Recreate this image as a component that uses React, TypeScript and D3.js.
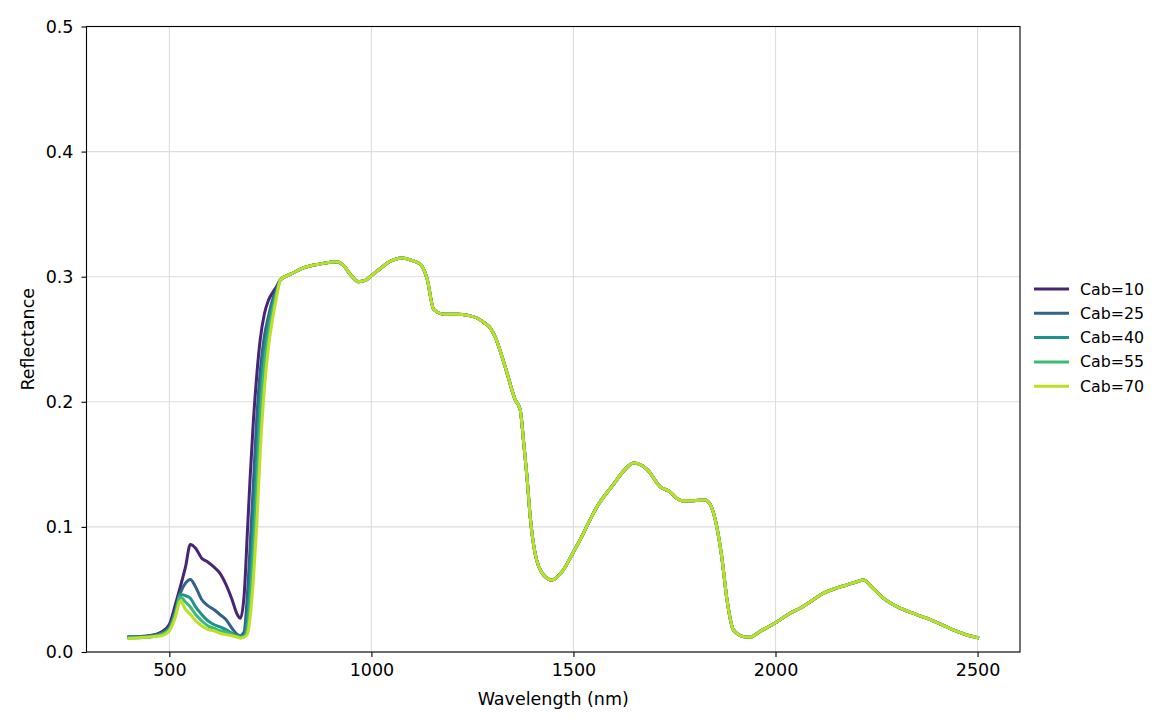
import { useEffect, useRef } from "react";
import * as d3 from "d3";

// visible / red-edge part, where the chlorophyll content changes the curve
const visibleWl = [400, 450, 480, 500, 515, 527, 540, 552, 565, 580, 595, 610, 625, 640, 655, 668, 676, 685, 693, 700, 708, 716, 725, 735, 745, 755, 765, 775];

const cab10 = [0.012, 0.013, 0.016, 0.022, 0.038, 0.052, 0.068, 0.086, 0.083, 0.075, 0.072, 0.068, 0.063, 0.054, 0.042, 0.030, 0.027, 0.045, 0.095, 0.14, 0.185, 0.22, 0.25, 0.27, 0.281, 0.287, 0.292, 0.2976];
const cab25 = [0.012, 0.013, 0.015, 0.020, 0.033, 0.047, 0.055, 0.058, 0.052, 0.042, 0.037, 0.034, 0.030, 0.026, 0.019, 0.014, 0.013, 0.016, 0.045, 0.085, 0.135, 0.185, 0.225, 0.252, 0.268, 0.281, 0.29, 0.2976];
const cab40 = [0.012, 0.012, 0.014, 0.019, 0.032, 0.046, 0.045, 0.043, 0.036, 0.030, 0.025, 0.022, 0.020, 0.018, 0.015, 0.013, 0.012, 0.013, 0.025, 0.055, 0.1, 0.15, 0.203, 0.24, 0.261, 0.277, 0.288, 0.2976];
const cab55 = [0.011, 0.012, 0.014, 0.018, 0.030, 0.044, 0.040, 0.036, 0.030, 0.025, 0.021, 0.019, 0.017, 0.016, 0.014, 0.012, 0.012, 0.012, 0.018, 0.04, 0.078, 0.125, 0.185, 0.228, 0.253, 0.272, 0.286, 0.2976];
const cab70 = [0.011, 0.012, 0.013, 0.017, 0.028, 0.041, 0.034, 0.030, 0.025, 0.021, 0.018, 0.017, 0.015, 0.014, 0.013, 0.012, 0.011, 0.012, 0.014, 0.028, 0.058, 0.1, 0.16, 0.21, 0.243, 0.265, 0.283, 0.2976];

// NIR / SWIR part, the same for every Cab
const tailWl = [800, 832, 870, 915, 931, 950, 968, 985, 997, 1020, 1045, 1076, 1100, 1121, 1138, 1154, 1180, 1212, 1240, 1261, 1280, 1294, 1306, 1331, 1356, 1368, 1377, 1385, 1393, 1405, 1426, 1447, 1475, 1500, 1517, 1540, 1558, 1599, 1625, 1649, 1682, 1715, 1739, 1755, 1768, 1797, 1826, 1840, 1851, 1867, 1880, 1896, 1920, 1936, 1961, 2003, 2036, 2061, 2090, 2119, 2150, 2176, 2200, 2218, 2238, 2267, 2308, 2340, 2374, 2410, 2440, 2470, 2500];
const tailR = [0.302, 0.307, 0.31, 0.312, 0.309, 0.301, 0.296, 0.297, 0.3, 0.306, 0.312, 0.315, 0.313, 0.31, 0.298, 0.274, 0.27, 0.27, 0.269, 0.267, 0.263, 0.259, 0.252, 0.228, 0.2016, 0.194, 0.167, 0.14, 0.108, 0.079, 0.0616, 0.0576, 0.0656, 0.08, 0.09, 0.105, 0.116, 0.134, 0.145, 0.151, 0.146, 0.132, 0.128, 0.123, 0.121, 0.121, 0.1216, 0.117, 0.1056, 0.076, 0.0416, 0.0176, 0.0123, 0.0117, 0.0163, 0.024, 0.031, 0.035, 0.041, 0.047, 0.051, 0.0536, 0.056, 0.0576, 0.052, 0.043, 0.035, 0.031, 0.027, 0.022, 0.0176, 0.014, 0.0115];

const seriesNames = ["Cab=10", "Cab=25", "Cab=40", "Cab=55", "Cab=70"];
const seriesVisible = [cab10, cab25, cab40, cab55, cab70];
const seriesColors = ["#482475", "#33638d", "#21918c", "#3bbb75", "#bddf26"];

const xTicks = [500, 1000, 1500, 2000, 2500];
const yTicks = [0, 0.1, 0.2, 0.3, 0.4, 0.5];

export default function App() {
  const svgRef = useRef<SVGSVGElement | null>(null);

  useEffect(() => {
    const svgElement = svgRef.current;
    if (!svgElement) return;

    const width = 1170;
    const height = 728;
    const margin = { top: 26.5, right: 150, bottom: 76, left: 86.5 };
    const chartWidth = width - margin.left - margin.right;
    const chartHeight = height - margin.top - margin.bottom;

    const x = d3.scaleLinear().domain([295, 2605]).range([0, chartWidth]);
    const y = d3.scaleLinear().domain([0, 0.5]).range([chartHeight, 0]);

    const svg = d3.select(svgElement);
    svg.selectAll("*").remove();

    const chart = svg.append("g").attr("transform", `translate(${margin.left}, ${margin.top})`);

    // grid
    chart
      .append("g")
      .selectAll("line")
      .data(xTicks)
      .join("line")
      .attr("x1", (d) => x(d))
      .attr("x2", (d) => x(d))
      .attr("y1", 0)
      .attr("y2", chartHeight)
      .attr("stroke", "#dddddd")
      .attr("stroke-width", 1.1);
    chart
      .append("g")
      .selectAll("line")
      .data(yTicks)
      .join("line")
      .attr("x1", 0)
      .attr("x2", chartWidth)
      .attr("y1", (d) => y(d))
      .attr("y2", (d) => y(d))
      .attr("stroke", "#dddddd")
      .attr("stroke-width", 1.1);

    const line = d3
      .line<[number, number]>()
      .x((d) => x(d[0]))
      .y((d) => y(d[1]))
      .curve(d3.curveMonotoneX);

    seriesVisible.forEach((values, i) => {
      const points: [number, number][] = [
        ...visibleWl.map((wl, j) => [wl, values[j]] as [number, number]),
        ...tailWl.map((wl, j) => [wl, tailR[j]] as [number, number]),
      ];
      chart
        .append("path")
        .attr("d", line(points) ?? "")
        .attr("fill", "none")
        .attr("stroke", seriesColors[i])
        .attr("stroke-width", 3)
        .attr("stroke-linejoin", "round")
        .attr("stroke-linecap", "square");
    });

    const font = "DejaVu Sans, sans-serif";
    const fontSize = 17.5;

    const xAxis = chart
      .append("g")
      .attr("transform", `translate(0, ${chartHeight})`)
      .call(d3.axisBottom(x).tickValues(xTicks).tickSize(5).tickPadding(7).tickFormat((d) => String(d)));
    xAxis.select(".domain").remove();
    xAxis.selectAll("line").attr("stroke", "#000").attr("stroke-width", 1.1);
    xAxis.selectAll("text").attr("font-size", fontSize).attr("font-family", font).attr("fill", "#000");

    const yAxis = chart
      .append("g")
      .call(d3.axisLeft(y).tickValues(yTicks).tickSize(5).tickPadding(8).tickFormat(d3.format(".1f")));
    yAxis.select(".domain").remove();
    yAxis.selectAll("line").attr("stroke", "#000").attr("stroke-width", 1.1);
    yAxis.selectAll("text").attr("font-size", fontSize).attr("font-family", font).attr("fill", "#000");

    chart
      .append("rect")
      .attr("x", 0)
      .attr("y", 0)
      .attr("width", chartWidth)
      .attr("height", chartHeight)
      .attr("fill", "none")
      .attr("stroke", "#000")
      .attr("stroke-width", 1.1);

    chart
      .append("text")
      .attr("x", chartWidth / 2)
      .attr("y", chartHeight + 52.5)
      .attr("text-anchor", "middle")
      .attr("font-size", fontSize)
      .attr("font-family", font)
      .text("Wavelength (nm)");

    chart
      .append("text")
      .attr("transform", `translate(${-53}, ${chartHeight / 2}) rotate(-90)`)
      .attr("text-anchor", "middle")
      .attr("font-size", fontSize)
      .attr("font-family", font)
      .text("Reflectance");

    // legend
    const legend = chart.append("g").attr("transform", `translate(${chartWidth + 14}, ${262.5})`);
    seriesNames.forEach((name, i) => {
      const row = legend.append("g").attr("transform", `translate(0, ${i * 24.3})`);
      row
        .append("line")
        .attr("x1", 0)
        .attr("x2", 35)
        .attr("y1", 0)
        .attr("y2", 0)
        .attr("stroke", seriesColors[i])
        .attr("stroke-width", 3);
      row
        .append("text")
        .attr("x", 46)
        .attr("y", 5.5)
        .attr("font-size", 15.8)
        .attr("font-family", font)
        .text(name);
    });
  }, []);

  return (
    <svg
      ref={svgRef}
      width={1170}
      height={728}
      style={{ position: "absolute", left: 0, top: 0, background: "#fff" }}
    />
  );
}
